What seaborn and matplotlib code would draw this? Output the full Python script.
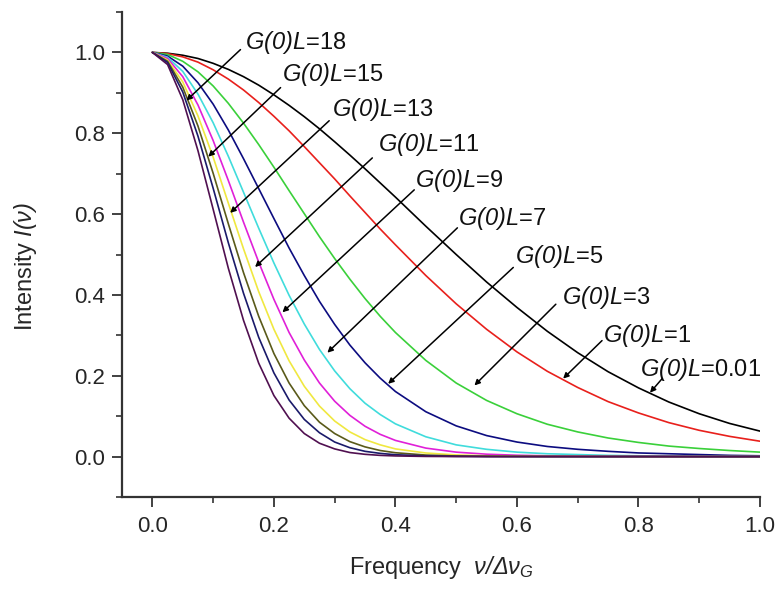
import pandas as pd
import matplotlib
matplotlib.use("Agg")
import matplotlib.pyplot as plt
import seaborn as sns
from matplotlib.ticker import MultipleLocator, FormatStrFormatter

# frequency nu / delta nu_G
freq = [0.0, 0.025, 0.05, 0.075, 0.1, 0.125, 0.15, 0.175, 0.2, 0.225, 0.25, 0.275,
        0.3, 0.325, 0.35, 0.375, 0.4, 0.45, 0.5, 0.55, 0.6, 0.65, 0.7, 0.75, 0.8,
        0.85, 0.9, 0.95, 1.0]

gain_labels = ["0.01", "1", "3", "5", "7", "9", "11", "13", "15", "18"]

I_g001 = [1.0, 0.998, 0.993, 0.985, 0.973, 0.958, 0.940, 0.919, 0.895, 0.869, 0.841, 0.811,
          0.779, 0.746, 0.712, 0.677, 0.642, 0.570, 0.500, 0.432, 0.369, 0.310, 0.257, 0.210,
          0.170, 0.135, 0.106, 0.082, 0.063]
I_g1 = [1.0, 0.997, 0.989, 0.976, 0.957, 0.934, 0.907, 0.876, 0.842, 0.806, 0.767, 0.727,
        0.687, 0.645, 0.604, 0.563, 0.524, 0.448, 0.378, 0.315, 0.259, 0.211, 0.171, 0.136,
        0.108, 0.084, 0.065, 0.050, 0.038]
I_g3 = [1.0, 0.995, 0.978, 0.952, 0.917, 0.874, 0.825, 0.772, 0.716, 0.658, 0.601, 0.544,
        0.490, 0.439, 0.391, 0.347, 0.307, 0.238, 0.182, 0.139, 0.106, 0.080, 0.061, 0.046,
        0.035, 0.026, 0.020, 0.015, 0.011]
I_g5 = [1.0, 0.991, 0.966, 0.925, 0.872, 0.808, 0.737, 0.663, 0.589, 0.516, 0.448, 0.384,
        0.327, 0.276, 0.232, 0.194, 0.161, 0.111, 0.076, 0.052, 0.036, 0.025, 0.018, 0.013,
        0.009, 0.007, 0.005, 0.003, 0.002]
I_g7 = [1.0, 0.988, 0.953, 0.897, 0.826, 0.743, 0.654, 0.565, 0.479, 0.399, 0.328, 0.265,
        0.212, 0.168, 0.132, 0.104, 0.081, 0.049, 0.029, 0.018, 0.011, 0.007, 0.005, 0.003,
        0.002, 0.0014, 0.0010, 0.0007, 0.0005]
I_g9 = [1.0, 0.985, 0.940, 0.870, 0.782, 0.683, 0.580, 0.481, 0.389, 0.307, 0.239, 0.182,
        0.137, 0.102, 0.075, 0.055, 0.040, 0.021, 0.011, 0.0059, 0.0033, 0.0019, 0.0011,
        0.0007, 0.0004, 0.0003, 0.0002, 0.0001, 0.0001]
I_g11 = [1.0, 0.981, 0.927, 0.843, 0.741, 0.627, 0.514, 0.408, 0.315, 0.237, 0.174, 0.125,
         0.088, 0.061, 0.042, 0.029, 0.019, 0.0089, 0.0041, 0.0019, 0.0010, 0.0005, 0.0003,
         0.0002, 0.0001, 0.0, 0.0, 0.0, 0.0]
I_g13 = [1.0, 0.978, 0.914, 0.818, 0.701, 0.576, 0.455, 0.347, 0.255, 0.182, 0.126, 0.085,
         0.057, 0.037, 0.024, 0.015, 0.0095, 0.0038, 0.0015, 0.0006, 0.0003, 0.0001, 0.0,
         0.0, 0.0, 0.0, 0.0, 0.0, 0.0]
I_g15 = [1.0, 0.975, 0.902, 0.793, 0.664, 0.529, 0.404, 0.295, 0.207, 0.140, 0.092, 0.059,
         0.036, 0.022, 0.013, 0.0079, 0.0046, 0.0016, 0.0006, 0.0002, 0.0001, 0.0, 0.0,
         0.0, 0.0, 0.0, 0.0, 0.0, 0.0]
I_g18 = [1.0, 0.970, 0.883, 0.757, 0.612, 0.466, 0.337, 0.231, 0.151, 0.095, 0.057, 0.033,
         0.019, 0.010, 0.0056, 0.0030, 0.0016, 0.0004, 0.0001, 0.0, 0.0, 0.0, 0.0, 0.0,
         0.0, 0.0, 0.0, 0.0, 0.0]

curves = [I_g001, I_g1, I_g3, I_g5, I_g7, I_g9, I_g11, I_g13, I_g15, I_g18]

line_colors = ["#000000", "#e8201c", "#3ad03a", "#0c0c80", "#40dcdc",
               "#e020d8", "#f0e840", "#5a5a1a", "#1a1a6a", "#501050"]

# label positions and arrows (data coords), same order as gain_labels
label_xy = [(0.803, 0.215), (0.742, 0.299), (0.674, 0.394), (0.597, 0.494), (0.503, 0.590),
            (0.433, 0.682), (0.372, 0.772), (0.296, 0.858), (0.214, 0.945), (0.153, 1.025)]
arrow_from = [(0.839, 0.193), (0.740, 0.287), (0.664, 0.377), (0.594, 0.468), (0.502, 0.566),
              (0.431, 0.660), (0.362, 0.739), (0.291, 0.831), (0.211, 0.913), (0.145, 1.007)]
arrow_to = [(0.819, 0.158), (0.676, 0.193), (0.530, 0.176), (0.388, 0.180), (0.288, 0.257),
            (0.214, 0.357), (0.169, 0.469), (0.128, 0.603), (0.092, 0.742), (0.056, 0.881)]

df = pd.concat(
    [pd.DataFrame({"freq": freq, "intensity": vals, "GL": lab})
     for lab, vals in zip(gain_labels, curves)],
    ignore_index=True,
)

sns.set_style("ticks")
plt.rcParams["font.family"] = ["Liberation Sans", "DejaVu Sans"]
# all math text in italic (G(0)L, I(nu), nu/Delta nu)
plt.rcParams["mathtext.fontset"] = "custom"
plt.rcParams["mathtext.rm"] = "Liberation Sans:italic"
plt.rcParams["mathtext.it"] = "Liberation Sans:italic"

fig = plt.figure(figsize=(7.8, 5.89), dpi=100)
ax = fig.add_axes([122 / 780, 1 - 497 / 589, 638 / 780, 485 / 589])

sns.lineplot(data=df, x="freq", y="intensity", hue="GL", hue_order=gain_labels,
             palette=dict(zip(gain_labels, line_colors)), estimator=None, sort=False,
             linewidth=1.2, legend=False, ax=ax)

for lab, (tx, ty), p0, p1 in zip(gain_labels, label_xy, arrow_from, arrow_to):
    ax.text(tx, ty, rf"$G(0)L$={lab}", fontsize=17, ha="left", va="center",
            color="#111111")
    ax.annotate("", xy=p1, xytext=p0,
                arrowprops=dict(arrowstyle="-|>", color="black", lw=1.1,
                                mutation_scale=8, shrinkA=0, shrinkB=0))

ax.set_xlim(-0.05, 1.0)
ax.set_ylim(-0.1, 1.1)
ax.xaxis.set_major_locator(MultipleLocator(0.2))
ax.xaxis.set_minor_locator(MultipleLocator(0.1))
ax.yaxis.set_major_locator(MultipleLocator(0.2))
ax.yaxis.set_minor_locator(MultipleLocator(0.1))
ax.xaxis.set_major_formatter(FormatStrFormatter("%.1f"))
ax.yaxis.set_major_formatter(FormatStrFormatter("%.1f"))
ax.tick_params(which="major", direction="out", length=7, width=1.3, labelsize=16,
               color="#333333")
ax.tick_params(axis="x", which="major", pad=7)
ax.tick_params(axis="y", which="major", pad=5)
ax.tick_params(which="minor", direction="out", length=4, width=1.2, color="#333333")

sns.despine(ax=ax)
for side in ("left", "bottom"):
    ax.spines[side].set_linewidth(1.6)
    ax.spines[side].set_color("#333333")

ax.set_xlabel(r"Frequency  $\nu/\Delta\nu_G$", fontsize=17)
ax.set_ylabel(r"Intensity $I(\nu)$", fontsize=17)
ax.xaxis.set_label_coords(0.5, -0.118)
ax.yaxis.set_label_coords(-0.13, 0.476)

fig.savefig("out.png", dpi=100)
